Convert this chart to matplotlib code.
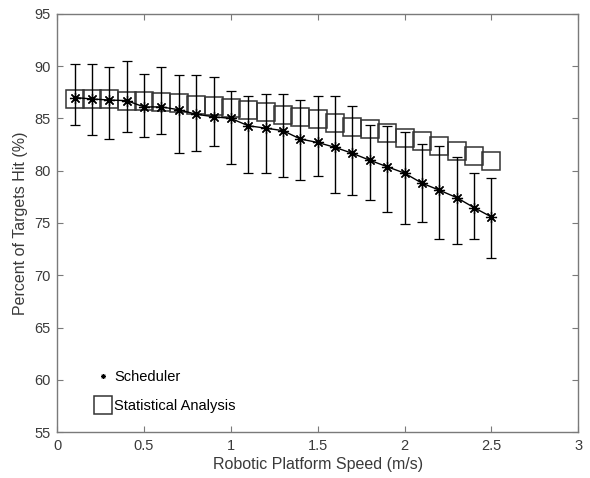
import matplotlib
matplotlib.use('Agg')
import matplotlib.pyplot as plt
from matplotlib.lines import Line2D
import numpy as np

plt.rcParams['font.family'] = ['Liberation Sans', 'DejaVu Sans']

speed = [0.1, 0.2, 0.3, 0.4, 0.5, 0.6, 0.7, 0.8, 0.9, 1.0, 1.1, 1.2, 1.3,
         1.4, 1.5, 1.6, 1.7, 1.8, 1.9, 2.0, 2.1, 2.2, 2.3, 2.4, 2.5]
scheduler = [87.0, 86.86, 86.76, 86.7, 86.1, 86.1, 85.83, 85.4, 85.16, 85.0,
             84.3, 84.07, 83.83, 83.03, 82.7, 82.23, 81.66, 81.0, 80.38, 79.77,
             78.81, 78.14, 77.43, 76.47, 75.58]
sched_upper = [90.2, 90.2, 89.9, 90.5, 89.26, 89.9, 89.13, 89.13, 88.94, 87.6,
               87.15, 87.35, 87.35, 86.8, 87.12, 87.12, 86.16, 84.37, 84.25, 83.67,
               82.55, 82.39, 81.27, 79.77, 79.29]
sched_lower = [84.35, 83.4, 83.05, 83.7, 83.2, 83.5, 81.73, 81.9, 82.37, 80.6,
               79.74, 79.74, 79.42, 79.1, 79.45, 77.85, 77.66, 77.21, 76.06, 74.87,
               75.1, 73.5, 72.95, 73.5, 71.67]
statistical = [86.9, 86.9, 86.85, 86.7, 86.7, 86.6, 86.5, 86.25, 86.15, 86.0,
               85.8, 85.6, 85.35, 85.15, 84.92, 84.6, 84.2, 84.02, 83.56, 83.16,
               82.82, 82.34, 81.86, 81.43, 80.95]

x = np.array(speed)
y = np.array(scheduler)
yerr = [y - np.array(sched_lower), np.array(sched_upper) - y]

fig = plt.figure(figsize=(5.9, 4.78), dpi=100)
ax = fig.add_axes([0.097, 0.096, 0.883, 0.875])

axis_col = '#7a7a7a'
text_col = '#3a3a3a'
asterisk = (8, 2, 0)

ax.errorbar(x, y, yerr=yerr, color='black', linewidth=1.0, elinewidth=1.0,
            capsize=3.6, capthick=1.0, marker=asterisk, markersize=8,
            markeredgewidth=0.9, zorder=3)
ax.plot(x, statistical, linestyle='none', marker='s', markersize=12.3,
        markerfacecolor='none', markeredgecolor='#333333',
        markeredgewidth=1.1, zorder=2)

ax.set_xlim(0, 3)
ax.set_ylim(55, 95)
ax.set_xticks(np.arange(0, 3.01, 0.5))
ax.set_xticklabels(['0', '0.5', '1', '1.5', '2', '2.5', '3'])
ax.set_yticks(np.arange(55, 96, 5))
ax.tick_params(direction='in', top=True, right=True, length=4, width=0.8,
               colors=axis_col, labelcolor=text_col, labelsize=10.5, pad=5)
for s in ax.spines.values():
    s.set_color(axis_col)
    s.set_linewidth(1.0)

ax.set_xlabel('Robotic Platform Speed (m/s)', fontsize=11.5, color=text_col, labelpad=3)
ax.set_ylabel('Percent of Targets Hit (%)', fontsize=11.5, color=text_col, labelpad=4)

handles = [
    Line2D([], [], linestyle='none', marker=asterisk, markersize=3.5,
           color='black', markeredgewidth=0.7),
    Line2D([], [], linestyle='none', marker='s', markersize=12.3,
           markerfacecolor='none', markeredgecolor='#333333', markeredgewidth=1.1),
]
leg = ax.legend(handles, ['Scheduler', 'Statistical Analysis'], loc='lower left',
                bbox_to_anchor=(0.045, 0.015), frameon=False, fontsize=10.5,
                handlelength=1.2, handletextpad=0.2, labelspacing=1.0)
for t in leg.get_texts():
    t.set_color('black')

fig.savefig('out.png', dpi=100)
